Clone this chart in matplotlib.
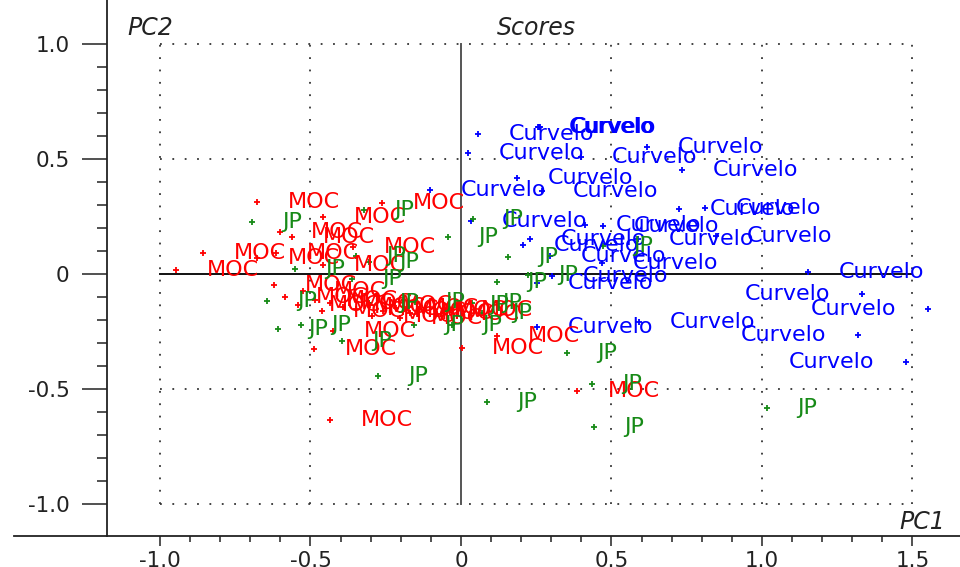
import matplotlib
matplotlib.use("Agg")
import matplotlib.pyplot as plt
from matplotlib.lines import Line2D
from matplotlib.ticker import FixedLocator, FixedFormatter

plt.rcParams['font.family'] = ['DejaVu Sans']
plt.rcParams['lines.scale_dashes'] = False

# scores on the first two components, one pair of lists per site
curvelo_x = [0.056, 0.256, 0.259, 0.262, 0.023, 0.399, 0.618, 0.734, 0.186, -0.103,
             0.269, 0.724, 0.811, 0.847, 0.588, 0.412, 0.472, 0.033, 0.229, 0.206,
             0.296, 0.468, 0.302, 0.252, 1.153, 1.332, 1.551, 1.319, 1.478, 0.252,
             0.591]
curvelo_y = [0.609, 0.641, 0.637, 0.639, 0.526, 0.509, 0.552, 0.452, 0.417, 0.365,
             0.361, 0.283, 0.287, 0.165, 0.152, 0.213, 0.209, 0.230, 0.152, 0.126,
             0.078, 0.048, -0.009, -0.039, 0.009, -0.087, -0.152, -0.265, -0.383, -0.230,
             -0.209]

moc_x = [-0.678, -0.262, -0.458, -0.601, -0.561, -0.359, -0.857, -0.678, -0.615, -0.458,
         -0.947, -0.621, -0.425, -0.488, -0.435, 0.002, 0.120, 0.385,
         -0.585, -0.542, -0.462, -0.525, -0.485, -0.435, -0.392, -0.349, -0.302, -0.259,
         -0.216, -0.169, -0.123, -0.080, -0.037, -0.203, -0.296]
moc_y = [0.313, 0.309, 0.248, 0.183, 0.161, 0.117, 0.091, 0.070, 0.091, 0.039,
         0.017, -0.048, -0.248, -0.326, -0.635, -0.322, -0.270, -0.509,
         -0.100, -0.135, -0.161, -0.074, -0.113, -0.126, -0.143, -0.152, -0.135, -0.161,
         -0.148, -0.170, -0.157, -0.174, -0.157, -0.191, -0.183]

jp_x = [-0.694, -0.322, -0.043, 0.040, 0.156, 0.223, 0.120, 0.472, -0.551, -0.349,
        -0.306, -0.362, -0.645, -0.608, -0.532, -0.395, -0.276, 0.086, 0.352, 0.442,
        0.435, 1.017, -0.153, -0.007, 0.037, 0.070, -0.156, -0.030, -0.306]
jp_y = [0.226, 0.278, 0.161, 0.239, 0.074, -0.004, -0.035, 0.122, 0.022, 0.078,
        0.052, -0.022, -0.117, -0.239, -0.222, -0.291, -0.443, -0.557, -0.343, -0.665,
        -0.478, -0.583, -0.122, -0.135, -0.126, -0.170, -0.222, -0.222, -0.126]

groups = [
    ("Curvelo", curvelo_x, curvelo_y, "#0000ff"),
    ("MOC", moc_x, moc_y, "#ff0000"),
    ("JP", jp_x, jp_y, "#178a17"),
]

x_major = [-1.0, -0.5, 0.0, 0.5, 1.0, 1.5]
x_labels = ["-1.0", "-0.5", "0", "0.5", "1.0", "1.5"]
y_major = [-1.0, -0.5, 0.0, 0.5, 1.0]
y_labels = ["-1.0", "-0.5", "0", "0.5", "1.0"]

W, H = 960, 567
fig = plt.figure(figsize=(W / 100, H / 100), dpi=100)
ax = fig.add_axes([107 / W, 1 - 536 / H, 1 - 107 / W, 536 / H])
ax.set_xlim(-1.176, 1.658)
ax.set_ylim(-1.139, 1.191)

for s in ("top", "right"):
    ax.spines[s].set_visible(False)
for s in ("left", "bottom"):
    ax.spines[s].set_linewidth(1.3)
    ax.spines[s].set_color("#222222")
# bottom axis line runs on past the y axis
fig.add_artist(Line2D([14 / W, 107 / W], [1 - 536 / H, 1 - 536 / H],
                      color="#222222", lw=1.3))

ax.xaxis.set_major_locator(FixedLocator(x_major))
ax.xaxis.set_major_formatter(FixedFormatter(x_labels))
ax.xaxis.set_minor_locator(FixedLocator([i / 10 for i in range(-10, 16)]))
ax.yaxis.set_major_locator(FixedLocator(y_major))
ax.yaxis.set_major_formatter(FixedFormatter(y_labels))
ax.yaxis.set_minor_locator(FixedLocator([i / 10 for i in range(-10, 11)]))
ax.tick_params(axis="x", which="major", direction="out", length=7.5, width=1.1,
               pad=3, labelsize=15.5, colors="#222222")
ax.tick_params(axis="x", which="minor", direction="out", length=4, width=1.1,
               colors="#222222")
ax.tick_params(axis="y", which="major", direction="out", length=18, width=1.1,
               pad=9, labelsize=15.5, colors="#222222")
ax.tick_params(axis="y", which="minor", direction="out", length=7.5, width=1.1,
               colors="#222222")

# dotted box grid and the solid cross through the origin
dots = dict(color="#333333", lw=1.3, linestyle=(0, (1.3, 7.6)), zorder=1)
for gx in [-1.0, -0.5, 0.5, 1.0, 1.5]:
    ax.plot([gx, gx], [-1.0, 1.0], **dots)
for gy in [-1.0, -0.5, 0.5, 1.0]:
    ax.plot([-1.0, 1.5], [gy, gy], **dots)
ax.plot([0, 0], [-1.0, 1.0], color="#555555", lw=1.4, zorder=1)
ax.plot([-1.0, 1.5], [0, 0], color="#111111", lw=1.4, zorder=1)

for name, xs, ys, col in groups:
    ax.plot(xs, ys, "+", color=col, ms=4, mew=1.3, zorder=3)
    for x, y in zip(xs, ys):
        # labels that would run off the right edge go on the left side
        if x > 1.25:
            ax.annotate(name, (x, y), xytext=(-23, 0), textcoords="offset points",
                        ha="right", va="center", color=col, fontsize=16, zorder=4)
        else:
            ax.annotate(name, (x, y), xytext=(22, 0), textcoords="offset points",
                        ha="left", va="center", color=col, fontsize=16, zorder=4)

fig.text(127 / W, 1 - 28 / H, "PC2", fontsize=17, style="italic", color="#222222",
         ha="left", va="center")
fig.text(536 / W, 1 - 28 / H, "Scores", fontsize=17, style="italic", color="#222222",
         ha="center", va="center")
fig.text(945 / W, 1 - 522 / H, "PC1", fontsize=17, style="italic", color="#222222",
         ha="right", va="center")

fig.savefig("out.png", dpi=100)
